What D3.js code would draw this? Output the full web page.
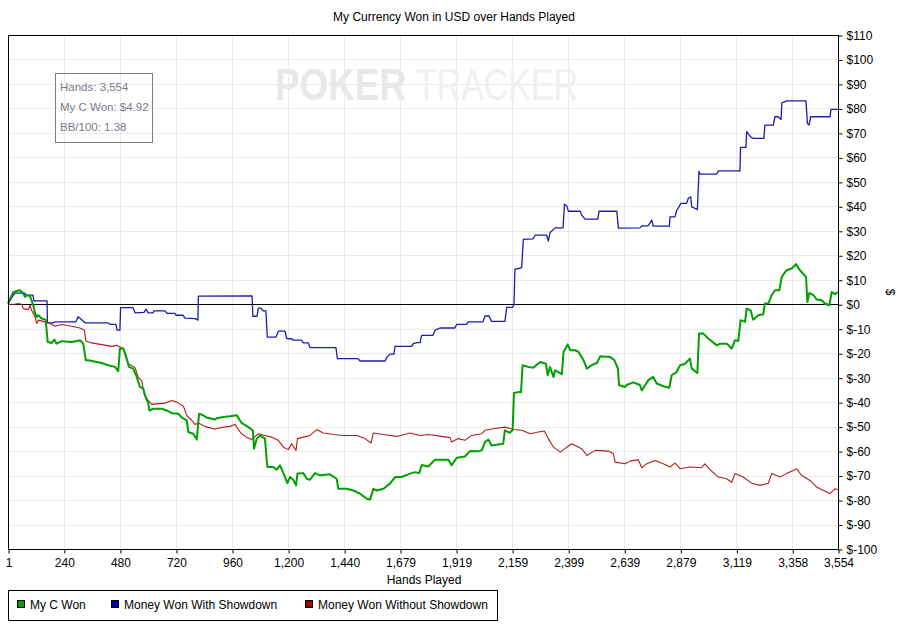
<!DOCTYPE html>
<html>
<head>
<meta charset="utf-8">
<script src="https://cdn.jsdelivr.net/npm/d3@7"></script>
<style>
  body { margin: 0; background: #fff; }
  svg { display: block; font-family: "Liberation Sans", Arial, sans-serif; }
</style>
</head>
<body>
<svg id="chart"></svg>
<script>
// tick labels
const xTicks = [1, 240, 480, 720, 960, 1200, 1440, 1679, 1919, 2159, 2399, 2639, 2879, 3119, 3358, 3554];
const yTicks = [-100, -90, -80, -70, -60, -50, -40, -30, -20, -10, 0, 10, 20, 30, 40, 50, 60, 70, 80, 90, 100, 110];

const seriesNames = ["My C Won", "Money Won With Showdown", "Money Won Without Showdown"];
const seriesColors = ["#00a000", "#0000a0", "#a00000"];

// Money Won With Showdown
const blueHands = [1,18,31,74,78,108,112,168,170,194,202,292,301,309,331,429,438,463,468,480,483,536,545,583,592,600,622,626,673,682,716,720,750,759,802,814,816,1046,1049,1067,1073,1084,1093,1105,1111,1148,1158,1187,1194,1217,1222,1258,1265,1287,1294,1405,1411,1499,1508,1615,1622,1636,1653,1658,1729,1736,1752,1765,1772,1820,1829,1850,1914,1922,1964,1971,2034,2043,2060,2071,2128,2136,2161,2167,2171,2200,2207,2248,2257,2307,2314,2321,2343,2377,2383,2393,2400,2450,2457,2471,2526,2531,2607,2614,2706,2714,2741,2757,2763,2832,2835,2856,2863,2882,2906,2913,2923,2928,2952,2959,2963,3035,3042,3127,3134,3137,3160,3163,3180,3189,3237,3241,3277,3284,3298,3310,3314,3334,3417,3423,3430,3437,3520,3524,3554];
const blueValues = [0,2.9,4.5,4.5,3.7,3.7,1.4,1.4,-7.6,-7.6,-7.2,-7.2,-5.1,-5.7,-7.6,-7.6,-8.2,-8.2,-10.6,-10.6,-1.4,-1.4,-3.5,-3.3,-2.0,-3.5,-3.5,-2.7,-2.7,-3.7,-3.7,-4.5,-4.5,-5.7,-5.9,-6.5,3.3,3.4,-4.9,-4.9,-1.6,-1.6,-2.7,-2.7,-13.4,-13.4,-11.0,-11.0,-14.0,-14.2,-14.7,-14.7,-15.8,-15.8,-17.7,-17.7,-22.2,-22.2,-23.2,-23.2,-21.8,-20.4,-20.4,-17.2,-17.2,-16.1,-15.7,-15.7,-12.7,-12.7,-10.6,-9.7,-9.7,-8.2,-8.2,-7.2,-7.2,-4.8,-4.8,-7.0,-7.0,-1.3,-1.3,0,14.2,15.0,26.5,26.7,28.2,28.2,25.8,29.2,31.2,31.2,40.9,40.1,38.0,38.0,36.4,34.8,34.8,38.0,38.0,31.1,31.2,32.0,32.0,34.4,31.9,31.9,35.7,35.7,38.2,41.2,41.2,43.2,43.9,39.8,38.7,54.4,53.2,53.2,54.5,54.5,54.4,64.1,64.1,70.5,68.4,67.8,67.8,73.2,73.2,76.6,76.6,75.5,82.3,83.1,83.1,73.9,73.2,76.6,76.6,79.6,79.6];

// My C Won
const greenHands = [1,10,24,52,67,74,81,95,102,109,117,124,131,145,162,171,188,199,209,231,274,295,309,323,334,345,366,402,430,459,473,480,495,509,519,537,552,566,580,587,602,606,623,659,680,702,730,745,766,773,794,809,819,837,852,887,894,923,951,980,1001,1030,1049,1054,1066,1080,1101,1111,1137,1151,1165,1180,1197,1208,1222,1234,1240,1265,1280,1294,1315,1337,1379,1408,1415,1451,1479,1508,1537,1551,1565,1580,1608,1636,1658,1686,1722,1743,1761,1772,1800,1829,1886,1900,1922,1957,1978,2014,2029,2043,2057,2071,2121,2128,2149,2161,2167,2185,2197,2204,2228,2250,2279,2304,2311,2321,2336,2343,2372,2379,2397,2408,2429,2443,2465,2479,2500,2522,2536,2579,2597,2612,2617,2643,2649,2678,2706,2714,2728,2742,2763,2778,2806,2832,2842,2863,2878,2899,2920,2928,2952,2959,2977,2999,3035,3049,3078,3099,3113,3127,3137,3156,3163,3180,3191,3213,3234,3241,3256,3270,3284,3303,3313,3334,3356,3374,3391,3417,3423,3431,3449,3463,3484,3498,3517,3527,3541,3554];
const greenValues = [0.5,2.3,5.0,5.7,4.4,3.0,3.7,3.4,1.6,-0.4,-3.8,-5.2,-4.5,-5.8,-6.3,-15.4,-15.8,-14.4,-16.1,-15.1,-15.4,-15.0,-14.7,-16.1,-22.9,-22.9,-23.3,-24.0,-24.9,-25.6,-27.3,-18.1,-18.1,-22.2,-25.6,-26.3,-29.7,-33.8,-34.5,-37.2,-40.6,-43.4,-42.7,-42.7,-43.4,-44.5,-44.7,-46.3,-47.4,-52.2,-52.9,-55.3,-44.7,-45.4,-46.3,-47.1,-46.6,-46.1,-45.8,-45.4,-48.5,-50.2,-51.5,-59.0,-54.9,-53.6,-54.9,-66.5,-66.5,-67.6,-65.8,-69.0,-73.1,-70.6,-71.7,-74.0,-69.2,-69.0,-71.3,-71.7,-69.0,-69.9,-69.5,-71.3,-75.4,-75.4,-76.1,-77.4,-79.5,-79.8,-75.4,-76.1,-75.4,-73.3,-70.6,-70.6,-69.2,-68.6,-69.0,-65.7,-66.3,-63.5,-63.5,-65.8,-62.7,-62.2,-60.0,-60.1,-59.7,-56.3,-55.3,-57.7,-57.0,-51.5,-52.5,-51.5,-36.3,-35.9,-35.9,-24.9,-25.6,-25.9,-23.6,-24.3,-29.0,-25.6,-29.7,-27.0,-28.6,-19.5,-16.4,-18.8,-18.8,-19.5,-22.9,-26.3,-24.9,-24.0,-21.3,-21.6,-22.9,-26.3,-33.1,-33.8,-33.0,-31.9,-33.0,-35.2,-33.1,-31.0,-29.7,-32.4,-33.5,-34.1,-29.0,-27.7,-24.9,-24.3,-22.2,-26.3,-28.1,-12.0,-12.0,-14.0,-16.8,-16.1,-16.1,-18.1,-14.7,-15.0,-6.5,-7.2,-1.8,-2.5,-6.3,-4.5,-4.1,0.3,0.3,3.7,5.7,5.7,11.2,13.9,14.6,16.4,13.9,11.2,0.9,4.6,3.7,1.9,1.6,0.3,-0.4,5.0,4.1,4.92];

// Money Won Without Showdown
const redHands = [1,31,45,60,67,88,95,102,117,124,131,159,181,202,231,274,309,328,334,359,402,445,466,480,495,516,545,559,573,584,595,616,644,673,702,723,752,766,787,802,816,844,887,894,923,951,973,987,1001,1022,1044,1073,1101,1130,1158,1180,1201,1215,1234,1240,1265,1294,1322,1351,1394,1437,1494,1529,1555,1565,1608,1665,1722,1765,1800,1857,1893,1900,1928,1957,1985,2029,2043,2085,2128,2164,2200,2236,2271,2297,2314,2336,2365,2393,2414,2457,2479,2515,2571,2593,2600,2643,2664,2699,2714,2735,2771,2806,2835,2856,2878,2920,2970,2984,3006,3042,3077,3099,3113,3148,3184,3220,3256,3270,3306,3334,3377,3398,3434,3463,3492,3520,3541,3554];
const redValues = [0,0,0.3,0,-1.8,-2.2,-0.4,-2.5,-5.2,-7.9,-6.5,-7.2,-7.9,-9.0,-8.3,-9.0,-9.7,-10.6,-15.0,-15.8,-16.5,-17.2,-16.8,-17.5,-18.1,-24.3,-25.9,-30.0,-31.1,-36.5,-38.6,-40.9,-40.6,-40.4,-39.3,-40.0,-41.7,-45.4,-47.4,-49.1,-48.5,-49.9,-51.1,-50.8,-50.2,-49.9,-49.1,-51.2,-52.9,-54.3,-55.3,-52.9,-53.6,-54.3,-55.6,-58.4,-59.4,-57.0,-59.7,-54.9,-54.3,-53.6,-51.2,-52.6,-53.2,-53.6,-53.6,-54.9,-56.7,-52.6,-53.2,-54.0,-52.6,-53.6,-53.2,-54.0,-54.5,-56.3,-54.9,-55.6,-53.6,-52.9,-51.5,-50.8,-50.2,-51.2,-51.5,-52.9,-52.2,-51.8,-54.9,-58.4,-60.4,-58.4,-57.0,-59.0,-61.8,-59.7,-60.0,-61.1,-64.5,-65.2,-64.1,-63.5,-66.8,-65.2,-63.8,-65.2,-66.5,-64.9,-67.2,-66.5,-66.8,-65.2,-67.6,-70.6,-71.3,-72.7,-69.2,-70.6,-73.1,-74.0,-73.1,-69.2,-70.6,-69.2,-67.2,-69.9,-72.0,-74.7,-76.1,-77.4,-75.4,-75.8];

const infoLines = ["Hands: 3,554", "My C Won: $4.92", "BB/100: 1.38"];

const width = 901, height = 630;
const margin = {top: 35, right: 63, bottom: 81, left: 8};

const svg = d3.select("#chart").attr("width", width).attr("height", height);

const x = d3.scaleLinear().domain([1, 3554]).range([margin.left, width - margin.right]);
const y = d3.scaleLinear().domain([-100, 110]).range([height - margin.bottom, margin.top]);

const fmtDollar = v => v < 0 ? "$-" + Math.abs(v) : "$" + v;

// grid
svg.append("g").selectAll("line").data(yTicks).join("line")
  .attr("x1", x.range()[0]).attr("x2", x.range()[1])
  .attr("y1", d => Math.round(y(d)) + 0.5).attr("y2", d => Math.round(y(d)) + 0.5)
  .attr("stroke", "#ebebeb");
svg.append("g").selectAll("line").data(xTicks).join("line")
  .attr("x1", d => Math.round(x(d)) + 0.5).attr("x2", d => Math.round(x(d)) + 0.5)
  .attr("y1", y.range()[0]).attr("y2", y.range()[1])
  .attr("stroke", "#ebebeb");

// watermark
const wm = svg.append("g").attr("font-family", "'Liberation Sans', Arial, sans-serif").attr("font-size", 44);
wm.append("text").attr("x", 275).attr("y", 100).attr("font-weight", "bold")
  .attr("fill", "#e8e8e8").attr("textLength", 131).attr("lengthAdjust", "spacingAndGlyphs").text("POKER");
wm.append("text").attr("x", 416).attr("y", 100)
  .attr("fill", "#f0f0f0").attr("textLength", 162).attr("lengthAdjust", "spacingAndGlyphs").text("TRACKER");

// info box
const info = svg.append("g");
info.append("rect").attr("x", 55.5).attr("y", 73.5).attr("width", 97).attr("height", 69)
  .attr("fill", "none").attr("stroke", "#808080");
info.selectAll("text").data(infoLines).join("text")
  .attr("x", 60).attr("y", (d, i) => 91 + i * 20)
  .attr("font-size", 11.5).attr("fill", "#7a7a8a").text(d => d);

// zero line
svg.append("line")
  .attr("x1", x.range()[0]).attr("x2", x.range()[1])
  .attr("y1", Math.round(y(0)) + 0.5).attr("y2", Math.round(y(0)) + 0.5)
  .attr("stroke", "#000");

// lines
const line = d3.line().x(d => x(d[0])).y(d => y(d[1]));
const series = [
  {pts: d3.zip(blueHands, blueValues), color: "#1c1cae", w: 1.3},
  {pts: d3.zip(redHands, redValues), color: "#b41c1c", w: 1.1},
  {pts: d3.zip(greenHands, greenValues), color: "#00a000", w: 2}
];
svg.append("g").selectAll("path").data(series).join("path")
  .attr("d", d => line(d.pts))
  .attr("fill", "none")
  .attr("stroke", d => d.color)
  .attr("stroke-width", d => d.w)
  .attr("stroke-linejoin", "round");

// frame
svg.append("rect")
  .attr("x", margin.left + 0.5).attr("y", margin.top + 0.5)
  .attr("width", x.range()[1] - x.range()[0]).attr("height", y.range()[0] - y.range()[1])
  .attr("fill", "none").attr("stroke", "#000");

// axes
const xAxis = d3.axisBottom(x).tickValues(xTicks).tickFormat(d3.format(",")).tickSize(4).tickSizeOuter(0);
const xg = svg.append("g").attr("transform", `translate(0.5,${y.range()[0] + 0.5})`).call(xAxis);
xg.select(".domain").remove();
xg.selectAll("text").attr("font-size", 12).attr("font-family", null).attr("fill", "#000").attr("dy", "0.9em");

const yAxis = d3.axisRight(y).tickValues(yTicks).tickFormat(fmtDollar).tickSize(4).tickSizeOuter(0);
const yg = svg.append("g").attr("transform", `translate(${x.range()[1] + 0.5},0.5)`).call(yAxis);
yg.select(".domain").remove();
yg.selectAll("text").attr("font-size", 12).attr("font-family", null).attr("fill", "#000").attr("x", 8);

// titles
svg.append("text").attr("x", 454).attr("y", 21).attr("text-anchor", "middle")
  .attr("font-size", 12).text("My Currency Won in USD over Hands Played");
svg.append("text").attr("x", 424).attr("y", 584).attr("text-anchor", "middle")
  .attr("font-size", 12).text("Hands Played");
svg.append("text").attr("transform", "translate(886,292) rotate(90)").attr("text-anchor", "middle")
  .attr("font-size", 12).text("$");

// legend
const legend = svg.append("g");
legend.append("rect").attr("x", 8.5).attr("y", 590.5).attr("width", 489).attr("height", 30)
  .attr("fill", "#fff").attr("stroke", "#000");
const legendX = [17, 111, 305];
const items = legend.selectAll("g.item").data(seriesNames).join("g").attr("class", "item")
  .attr("transform", (d, i) => `translate(${legendX[i]},0)`);
items.append("rect").attr("x", 0.5).attr("y", 600.5).attr("width", 7).attr("height", 7)
  .attr("fill", (d, i) => seriesColors[i]).attr("stroke", "#000");
items.append("text").attr("x", 13).attr("y", 609).attr("font-size", 12).text(d => d);
</script>
</body>
</html>
